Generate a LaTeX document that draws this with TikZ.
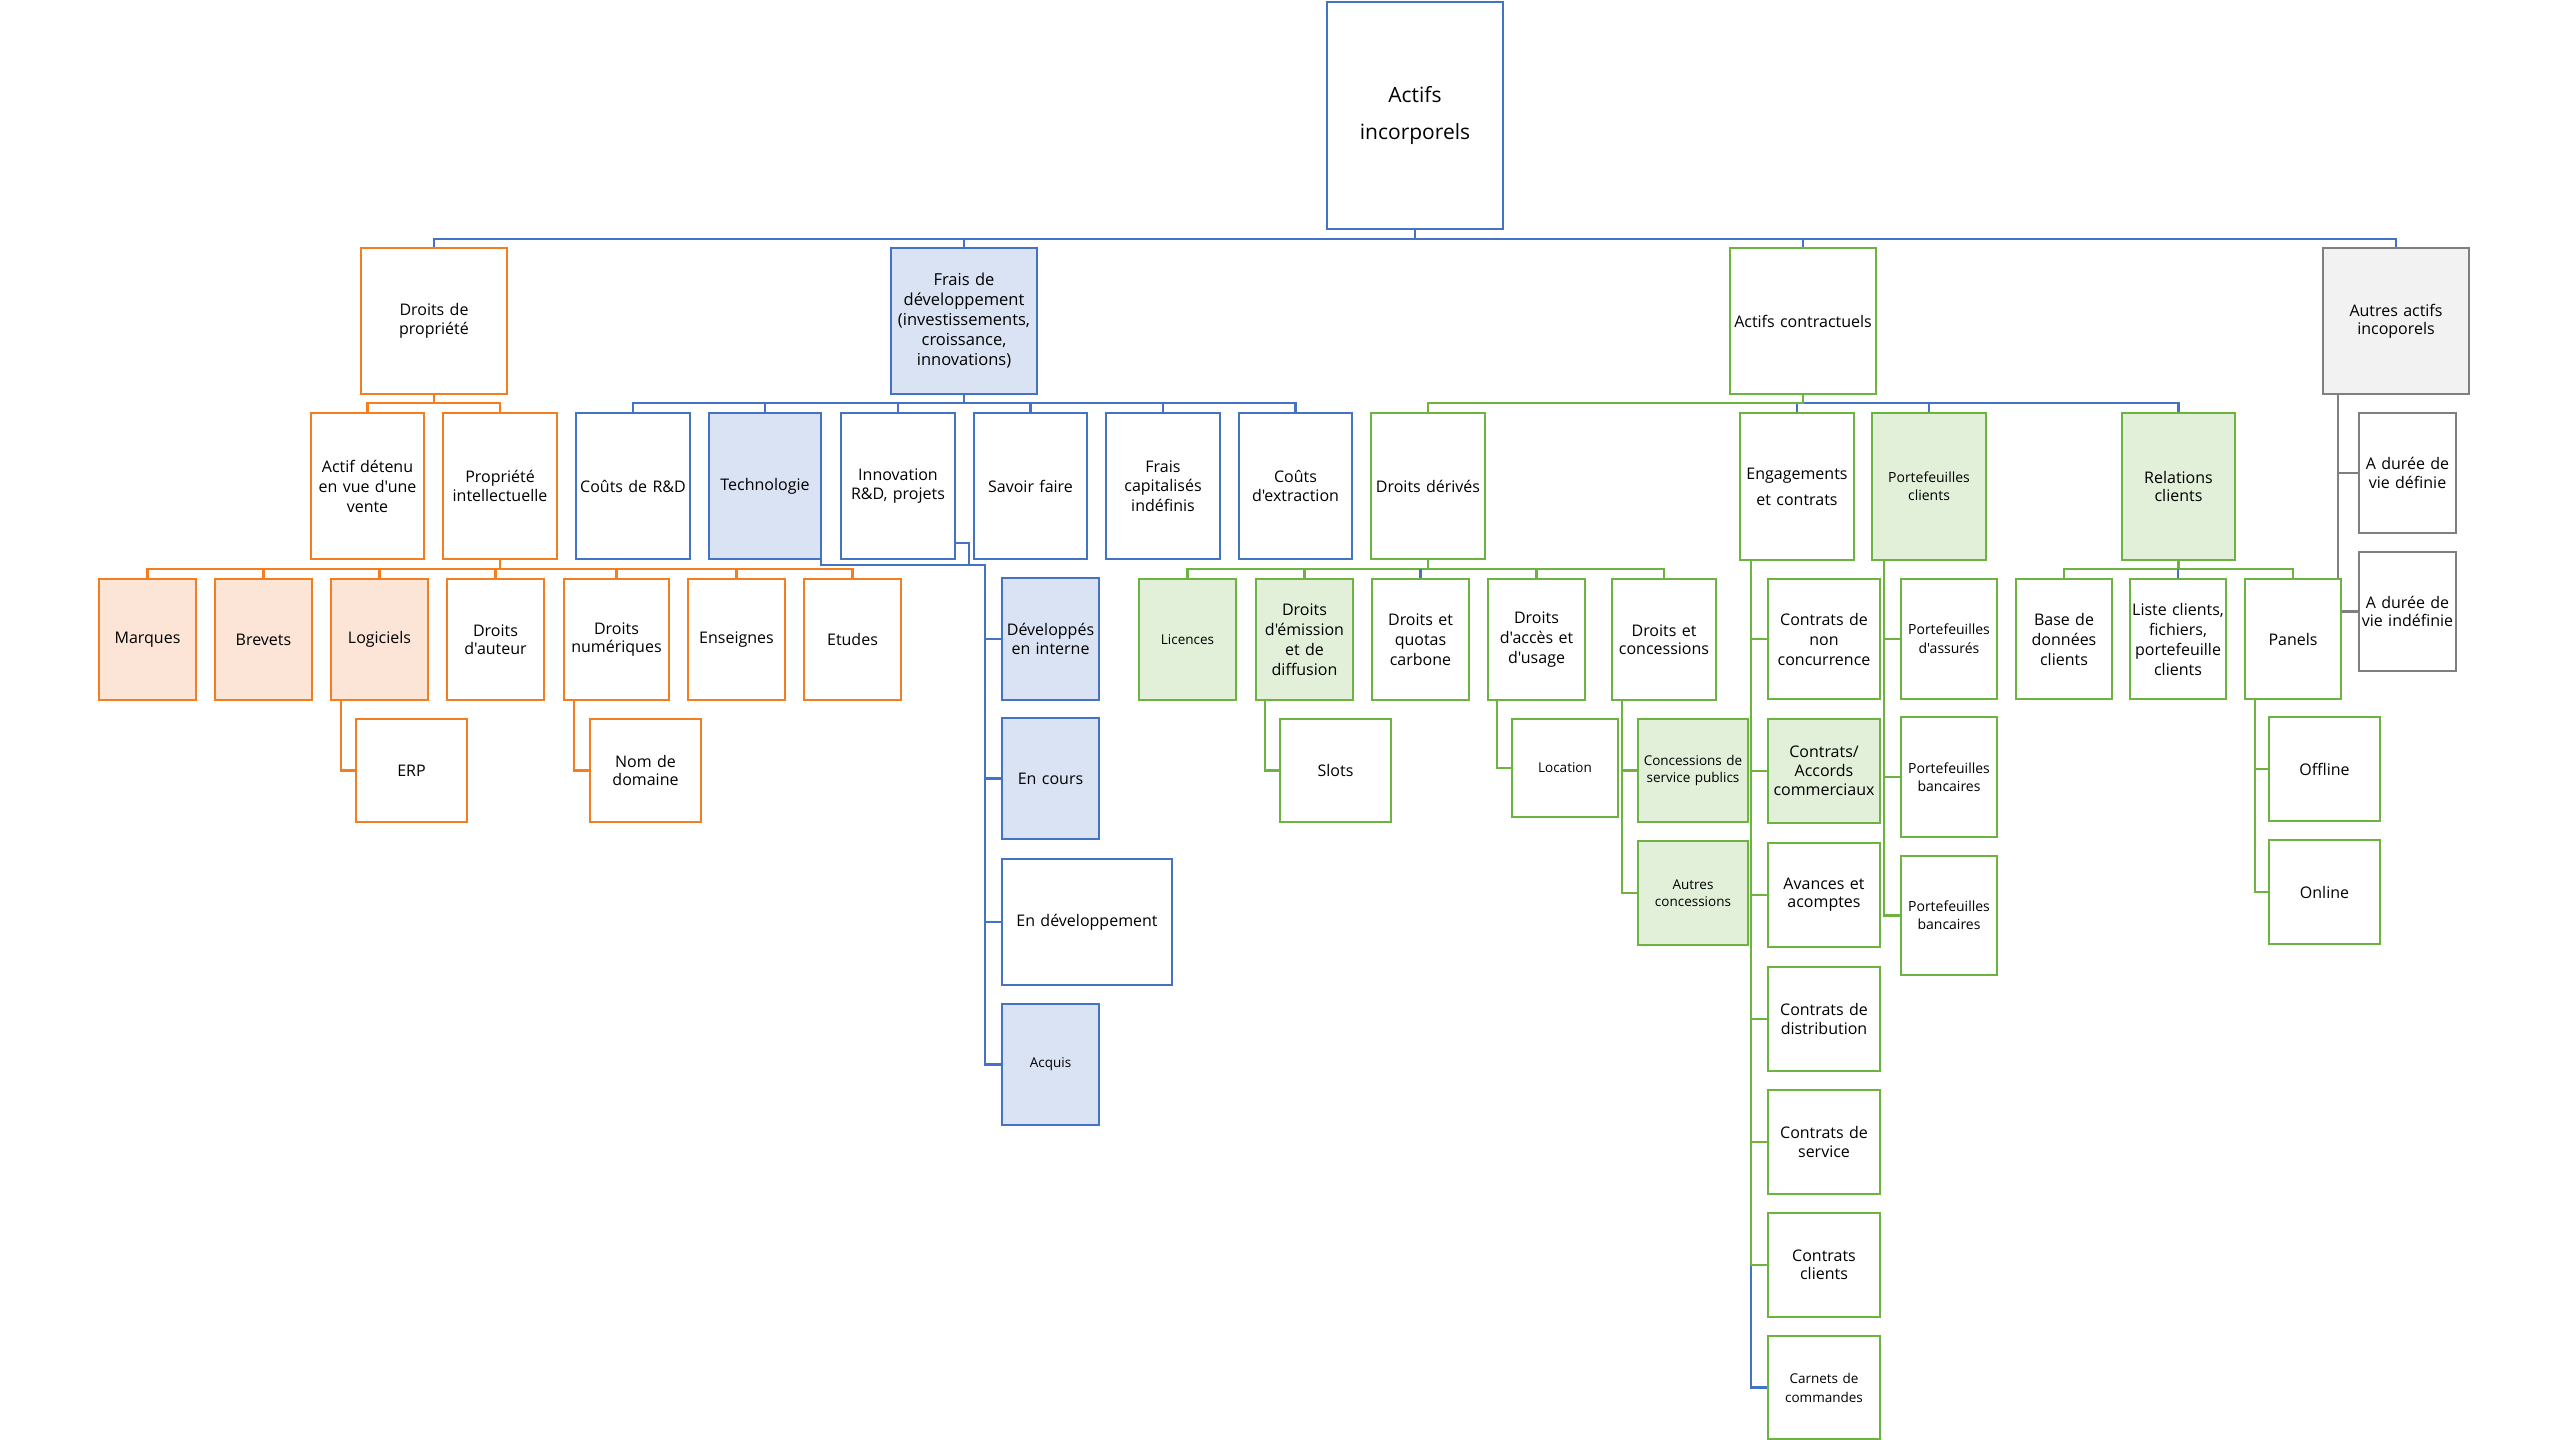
\documentclass[tikz,border=0pt]{standalone}
\usepackage{fontspec}
\setmainfont{Open Sans}[Ligatures=TeXOff]
\usetikzlibrary{calc}
\definecolor{cOr}{HTML}{F47D20}
\definecolor{cOrF}{HTML}{FCE4D6}
\definecolor{cBl}{HTML}{4472C4}
\definecolor{cBlF}{HTML}{DAE3F3}
\definecolor{cGr}{HTML}{6DB33F}
\definecolor{cGrF}{HTML}{E2F0D9}
\definecolor{cGy}{HTML}{7F7F7F}
\definecolor{cGyF}{HTML}{F2F2F2}
\pgfdeclarelayer{bg}
\pgfsetlayers{bg,main}
\tikzset{
  base/.style={draw, line width=2.8pt, inner sep=0pt, outer sep=0pt, align=center, text=black},
  ob/.style={base, draw=cOr, fill=white},
  obf/.style={base, draw=cOr, fill=cOrF},
  bb/.style={base, draw=cBl, fill=white},
  bbf/.style={base, draw=cBl, fill=cBlF},
  gb/.style={base, draw=cGr, fill=white},
  gbf/.style={base, draw=cGr, fill=cGrF},
  yb/.style={base, draw=cGy, fill=cGyF},
  yw/.style={base, draw=cGy, fill=white},
  lo/.style={draw=cOr, line width=2.6pt},
  lb/.style={draw=cBl, line width=2.6pt},
  lg/.style={draw=cGr, line width=2.6pt},
  ly/.style={draw=cGy, line width=2.6pt},
}
\newcommand\bx[9]{%
  \pgfmathsetmacro\bxw{#4-#3}\pgfmathsetmacro\bxh{#6-#5}%
  \pgfmathsetmacro\bxcx{(#3+#4)/2}\pgfmathsetmacro\bxcy{(#5+#6)/2}%
  \pgfmathsetmacro\bxtw{#4-#3-2}%
  \node[#2, minimum width=\bxw pt, minimum height=\bxh pt, text width=\bxtw pt,
        font=\fontsize{#7pt}{#8pt}\selectfont] (#1) at (\bxcx,\bxcy) {#9};}
\begin{document}
\begin{tikzpicture}[x=1pt,y=-1pt]
\useasboundingbox (0,0) rectangle (2560,1440);
% root and level 1
\bx{R}{bb}{1327}{1503}{2}{229}{21}{37}{Actifs\\incorporels}
\bx{DP}{ob}{361}{507}{248}{394}{16}{18.5}{Droits de\\propriété}
\bx{FD}{bbf}{891}{1037}{248}{394}{16.5}{20}{Frais de\\développement\\(investissements,\\croissance,\\innovations)}
\bx{AC}{gb}{1730}{1876}{248}{394}{16}{18}{Actifs contractuels}
\bx{AA}{yb}{2323}{2469}{248}{394}{16}{18.3}{Autres actifs\\incoporels}
% level 2
\bx{AD}{ob}{311}{424}{413}{559}{16}{20}{Actif détenu\\en vue d'une\\vente}
\bx{PI}{ob}{443}{557}{413}{559}{16}{18.5}{Propriété\\intellectuelle}
\bx{CRD}{bb}{576}{690}{413}{559}{16}{18.5}{Coûts de R\&D}
\bx{TEC}{bbf}{709}{821}{413}{559}{16}{18.5}{Technologie}
\bx{INN}{bb}{841}{955}{413}{559}{16}{18.5}{Innovation\\R\&D, projets}
\bx{SF}{bb}{974}{1087}{413}{559}{16}{18.5}{Savoir faire}
\bx{FCI}{bb}{1106}{1220}{413}{559}{16}{19.5}{Frais\\capitalisés\\indéfinis}
\bx{CEX}{bb}{1239}{1352}{413}{559}{16}{18.5}{Coûts\\d'extraction}
\bx{DD}{gb}{1371}{1485}{413}{559}{16}{18.5}{Droits dérivés}
\bx{EC}{gb}{1740}{1854}{413}{560}{16}{26}{Engagements\\et contrats}
\bx{PC}{gbf}{1872}{1986}{413}{560}{14}{18}{Portefeuilles\\clients}
\bx{RC}{gbf}{2122}{2235}{413}{560}{16}{18.3}{Relations\\clients}
\bx{ADD}{yw}{2359}{2456}{413}{533}{16}{18.3}{A durée de\\vie définie}
\bx{ADI}{yw}{2359}{2456}{552}{671}{16}{18.3}{A durée de\\vie indéfinie}
% orange level 3
\bx{MAR}{obf}{99}{196}{579}{700}{16}{18.5}{Marques}
\bx{BRE}{obf}{215}{312}{579}{700}{16}{18.5}{Brevets}
\bx{LOG}{obf}{331}{428}{579}{700}{16}{18.5}{Logiciels}
\bx{DAT}{ob}{447}{544}{579}{700}{16}{18.5}{Droits\\d'auteur}
\bx{DNU}{ob}{564}{669}{579}{700}{16}{18.5}{Droits\\numériques}
\bx{ENS}{ob}{688}{785}{579}{700}{16}{18.5}{Enseignes}
\bx{ETU}{ob}{804}{901}{579}{700}{16}{18.5}{Etudes}
\bx{ERP}{ob}{356}{467}{719}{822}{16}{18.5}{ERP}
\bx{NDD}{ob}{590}{701}{719}{822}{16}{18.5}{Nom de\\domaine}
% blue sub
\bx{DEV}{bbf}{1002}{1099}{578}{700}{16}{18.4}{Développés\\en interne}
\bx{ENC}{bbf}{1002}{1099}{718}{839}{16}{18.4}{En cours}
\bx{EDV}{bb}{1002}{1172}{859}{985}{16}{18.4}{En développement}
\bx{ACQ}{bbf}{1002}{1099}{1004}{1125}{13.5}{17}{Acquis}
% green under Droits derives
\bx{LIC}{gbf}{1139}{1236}{579}{700}{13.5}{17}{Licences}
\bx{DEM}{gbf}{1256}{1353}{579}{700}{16}{20}{Droits\\d'émission\\et de\\diffusion}
\bx{DQC}{gb}{1372}{1469}{579}{700}{16}{20}{Droits et\\quotas\\carbone}
\bx{DAU}{gb}{1488}{1585}{579}{700}{16}{20}{Droits\\d'accès et\\d'usage}
\bx{DCO}{gb}{1612}{1716}{579}{700}{16}{18.3}{Droits et\\concessions}
\bx{SLO}{gb}{1280}{1391}{719}{822}{16}{18.3}{Slots}
\bx{LOC}{gb}{1512}{1618}{719}{817}{13.5}{17}{Location}
\bx{CSP}{gbf}{1638}{1748}{719}{822}{13.5}{17}{Concessions de\\service publics}
\bx{AUC}{gbf}{1638}{1748}{841}{945}{13.5}{17}{Autres\\concessions}
% under Engagements
\bx{CNC}{gb}{1768}{1880}{579}{699}{16}{20}{Contrats de\\non\\concurrence}
\bx{CAC}{gbf}{1768}{1880}{719}{823}{16}{19}{Contrats/\\Accords\\commerciaux}
\bx{AVA}{gb}{1768}{1880}{843}{947}{16}{18.3}{Avances et\\acomptes}
\bx{CDI}{gb}{1768}{1880}{967}{1071}{16}{18.3}{Contrats de\\distribution}
\bx{CSE}{gb}{1768}{1880}{1090}{1194}{16}{18.3}{Contrats de\\service}
\bx{CCL}{gb}{1768}{1880}{1213}{1317}{16}{18.3}{Contrats\\clients}
\bx{CAR}{gb}{1768}{1880}{1336}{1439}{13.5}{19}{Carnets de\\commandes}
% under Portefeuilles clients
\bx{PAS}{gb}{1901}{1997}{579}{699}{14}{19}{Portefeuilles\\d'assurés}
\bx{PB1}{gb}{1901}{1997}{717}{837}{14}{18.3}{Portefeuilles\\bancaires}
\bx{PB2}{gb}{1901}{1997}{856}{975}{14}{18.3}{Portefeuilles\\bancaires}
% under Relations clients
\bx{BDD}{gb}{2016}{2112}{579}{699}{16}{20}{Base de\\données\\clients}
\bx{LCL}{gb}{2130}{2226}{579}{699}{16}{20}{Liste clients,\\fichiers,\\portefeuille\\clients}
\bx{PAN}{gb}{2245}{2341}{579}{699}{16}{18.3}{Panels}
\bx{OFF}{gb}{2269}{2380}{717}{821}{16}{18.3}{Offline}
\bx{ONL}{gb}{2269}{2380}{840}{944}{16}{18.3}{Online}

\begin{pgfonlayer}{bg}
% root
\draw[lb] (R.south) -- ++(0,10);
\draw[lb] (DP.north) -- ++(0,-9) -| (AA.north);
\draw[lb] (FD.north) -- ++(0,-9);
\draw[lb] (AC.north) -- ++(0,-9);
% Droits de propriete
\draw[lo] (DP.south) -- ++(0,9);
\draw[lo] (AD.north) -- ++(0,-10) -| (PI.north);
% Frais de developpement
\draw[lb] (FD.south) -- ++(0,9);
\draw[lb] (CRD.north) -- ++(0,-10) -| (CEX.north);
\foreach \n in {TEC,INN,SF,FCI} \draw[lb] (\n.north) -- ++(0,-10);
% Propriete intellectuelle
\draw[lo] (PI.south) -- ++(0,10);
\draw[lo] (MAR.north) -- ++(0,-10) -| (ETU.north);
\foreach \n in {BRE,LOG,DAT,DNU,ENS} \draw[lo] (\n.north) -- ++(0,-10);
\draw[lo] ($(LOG.south west)+(10,0)$) |- (ERP.west);
\draw[lo] ($(DNU.south west)+(10,0)$) |- (NDD.west);
% Technologie
\coordinate (tv) at (985,565);
\draw[lb] (TEC.south east) |- (tv) |- (ACQ.west);
\foreach \n in {DEV,ENC,EDV} \draw[lb] (tv |- \n.west) -- (\n.west);
\draw[lb] ($(INN.south east)+(0,-16)$) -| ($(tv)+(-16,0)$);
% Actifs contractuels
\draw[lb] (EC.north) -- ++(0,-10) -| (RC.north);
\draw[lb] (PC.north) -- ++(0,-10);
\draw[lg] (DD.north) -- ++(0,-10) -| (AC.south);
% Droits derives
\draw[lg] (DD.south) -- ++(0,9);
\draw[lg] (LIC.north) -- ++(0,-10) -| (DCO.north);
\foreach \n in {DEM,DAU} \draw[lg] (\n.north) -- ++(0,-10);
\draw[lb] (DQC.north) -- ++(0,-10);
\draw[lg] ($(DEM.south west)+(9,0)$) |- (SLO.west);
\draw[lg] ($(DAU.south west)+(9,0)$) |- (LOC.west);
\coordinate (dcv) at ($(DCO.south west)+(10,0)$);
\draw[lg] (dcv) |- (AUC.west);
\draw[lg] (dcv |- CSP.west) -- (CSP.west);
% Engagements
\coordinate (ecv) at ($(EC.south west)+(11,0)$);
\draw[lb] (ecv |- CCL.west) |- (CAR.west);
\draw[lg] (ecv) |- (CCL.west);
\foreach \n in {CNC,CAC,AVA,CDI,CSE} \draw[lg] (ecv |- \n.west) -- (\n.west);
% Portefeuilles clients
\coordinate (pcv) at ($(PC.south west)+(12,0)$);
\draw[lg] (pcv) |- (PB2.west);
\foreach \n in {PAS,PB1} \draw[lg] (pcv |- \n.west) -- (\n.west);
% Relations clients
\draw[lg] (RC.south) -- ++(0,9);
\draw[lg] (BDD.north) -- ++(0,-10) -| (PAN.north);
\draw[lb] (LCL.north) -- ++(0,-10);
\coordinate (pnv) at ($(PAN.south west)+(10,0)$);
\draw[lg] (pnv) |- (ONL.west);
\draw[lg] (pnv |- OFF.west) -- (OFF.west);
% Autres actifs
\coordinate (aav) at ($(AA.south west)+(15,0)$);
\draw[ly] (aav) |- (ADI.west);
\draw[ly] (aav |- ADD.west) -- (ADD.west);
\end{pgfonlayer}
\end{tikzpicture}
\end{document}
